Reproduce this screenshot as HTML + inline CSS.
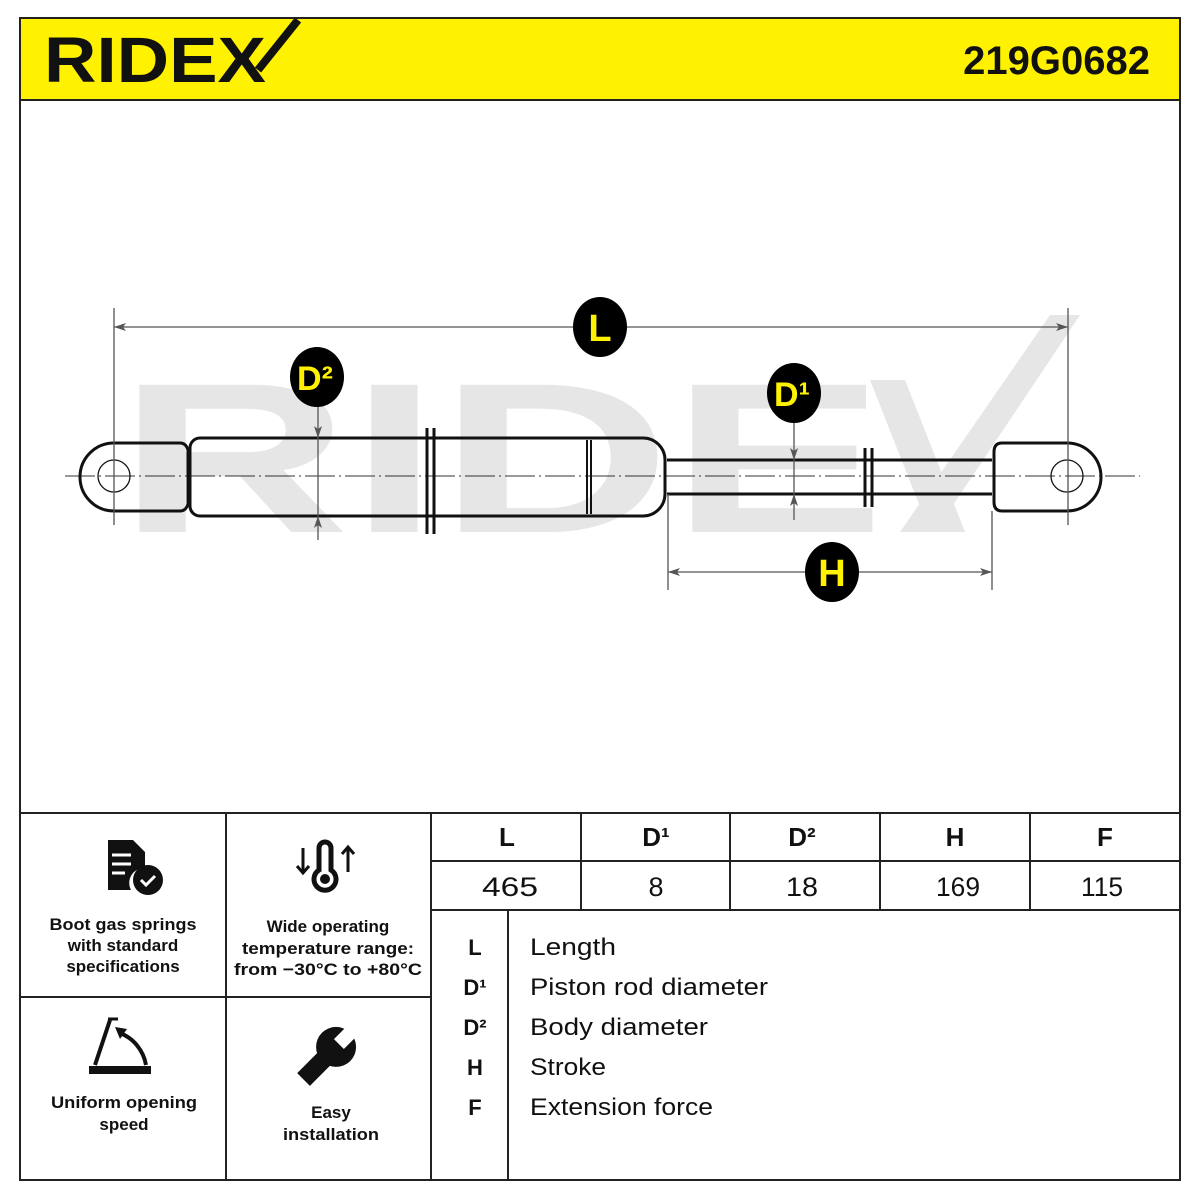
<!DOCTYPE html>
<html><head><meta charset="utf-8"><style>
html,body{margin:0;padding:0;background:#fff}
svg{display:block}
text{font-family:"Liberation Sans",sans-serif}
</style></head><body>
<svg width="1200" height="1200" viewBox="0 0 1200 1200" xmlns="http://www.w3.org/2000/svg">
<rect x="0" y="0" width="1200" height="1200" fill="#fff"/>
<!-- header -->
<rect x="20" y="18" width="1160" height="82" fill="#fff200"/>
<text x="44" y="82" font-size="64" font-weight="bold" fill="#111" textLength="222" lengthAdjust="spacingAndGlyphs">RIDEX</text>
<line x1="258" y1="70" x2="298" y2="20" stroke="#111" stroke-width="8"/>
<text x="1150" y="74" font-size="40" font-weight="bold" fill="#111" text-anchor="end">219G0682</text>
<!-- frame -->
<rect x="20" y="18" width="1160" height="1162" fill="none" stroke="#222" stroke-width="2"/>
<line x1="20" y1="100" x2="1180" y2="100" stroke="#222" stroke-width="2"/>
<!-- watermark -->
<g transform="translate(118,532) scale(1.5,1)">
<text x="0" y="0" font-size="214" font-weight="bold" fill="#e6e6e6">RIDE</text>
</g>
<path d="M900 532 L1050 315 L1080 315 L935 532 Z" fill="#e6e6e6"/>
<path d="M870 380 L905 380 L965 532 L930 532 Z" fill="#e6e6e6"/>
<!-- centerline -->
<line x1="65" y1="476" x2="1140" y2="476" stroke="#333" stroke-width="1" stroke-dasharray="30,4,2,4"/>
<!-- spring -->
<g fill="none" stroke="#111" stroke-width="3">
<path d="M114 443 L180 443 Q186 443 188 450 L188 504 Q186 511 180 511 L114 511 A34 34 0 0 1 114 443 Z"/>
<path d="M200 438 L643 438 A22 22 0 0 1 665 460 L665 494 A22 22 0 0 1 643 516 L200 516 A10 10 0 0 1 190 506 L190 448 A10 10 0 0 1 200 438 Z"/>
<line x1="427" y1="428" x2="427" y2="534"/><line x1="434" y1="428" x2="434" y2="534"/>
<line x1="587" y1="440" x2="587" y2="514" stroke-width="2"/><line x1="591" y1="440" x2="591" y2="514" stroke-width="2"/>
<line x1="667" y1="460" x2="992" y2="460"/><line x1="667" y1="494" x2="992" y2="494"/>
<line x1="865" y1="448" x2="865" y2="507"/><line x1="872" y1="448" x2="872" y2="507"/>
<path d="M1067 443 L1002 443 Q994 443 994 452 L994 502 Q994 511 1002 511 L1067 511 A34 34 0 0 0 1067 443 Z"/>
</g>
<circle cx="114" cy="476" r="16" fill="none" stroke="#111" stroke-width="1.3"/>
<circle cx="1067" cy="476" r="16" fill="none" stroke="#111" stroke-width="1.3"/>
<!-- dimension lines -->
<g stroke="#555" stroke-width="1.3" fill="none">
<line x1="114" y1="308" x2="114" y2="525"/><line x1="1068" y1="308" x2="1068" y2="525"/>
<line x1="114" y1="327" x2="1068" y2="327"/>
<line x1="318" y1="400" x2="318" y2="540"/>
<line x1="794" y1="415" x2="794" y2="520"/>
<line x1="668" y1="494" x2="668" y2="590"/><line x1="992" y1="511" x2="992" y2="590"/>
<line x1="668" y1="572" x2="992" y2="572"/>
</g>
<g fill="#555">
<path d="M114 327 l12 -4 l-3 4 l3 4 z"/><path d="M1068 327 l-12 -4 l3 4 l-3 4 z"/>
<path d="M318 438 l-4 -12 l4 3 l4 -3 z"/><path d="M318 516 l-4 12 l4 -3 l4 3 z"/>
<path d="M794 460 l-4 -12 l4 3 l4 -3 z"/><path d="M794 494 l-4 12 l4 -3 l4 3 z"/>
<path d="M668 572 l12 -4 l-3 4 l3 4 z"/><path d="M992 572 l-12 -4 l3 4 l-3 4 z"/>
</g>
<g font-weight="bold" fill="#fff200" text-anchor="middle">
<ellipse cx="600" cy="327" rx="27" ry="30" fill="#000"/><text x="600" y="341" font-size="38">L</text>
<ellipse cx="317" cy="377" rx="27" ry="30" fill="#000"/><text x="315" y="390" font-size="34">D²</text>
<ellipse cx="794" cy="393" rx="27" ry="30" fill="#000"/><text x="792" y="406" font-size="34">D¹</text>
<ellipse cx="832" cy="572" rx="27" ry="30" fill="#000"/><text x="832" y="586" font-size="38">H</text>
</g>
<!-- table lines -->
<g stroke="#222" stroke-width="2">
<line x1="20" y1="813" x2="1180" y2="813"/>
<line x1="226" y1="813" x2="226" y2="1180"/>
<line x1="431" y1="813" x2="431" y2="1180"/>
<line x1="20" y1="997" x2="431" y2="997"/>
<line x1="431" y1="861" x2="1180" y2="861"/>
<line x1="431" y1="910" x2="1180" y2="910"/>
<line x1="581" y1="813" x2="581" y2="910"/><line x1="730" y1="813" x2="730" y2="910"/>
<line x1="880" y1="813" x2="880" y2="910"/><line x1="1030" y1="813" x2="1030" y2="910"/>
<line x1="508" y1="910" x2="508" y2="1180"/>
</g>
<g font-size="26" font-weight="bold" fill="#111" text-anchor="middle">
<text x="507" y="846">L</text><text x="656" y="846">D¹</text><text x="802" y="846">D²</text><text x="955" y="846">H</text><text x="1105" y="846">F</text>
</g>
<g font-size="27" fill="#111" text-anchor="middle">
<text x="510" y="896" textLength="56" lengthAdjust="spacingAndGlyphs">465</text><text x="656" y="896">8</text><text x="802" y="896" textLength="32" lengthAdjust="spacingAndGlyphs">18</text><text x="958" y="896" textLength="44" lengthAdjust="spacingAndGlyphs">169</text><text x="1102" y="896" textLength="42" lengthAdjust="spacingAndGlyphs">115</text>
</g>
<g font-size="22" font-weight="bold" fill="#111" text-anchor="middle">
<text x="475" y="955">L</text><text x="475" y="995">D¹</text><text x="475" y="1035">D²</text><text x="475" y="1075">H</text><text x="475" y="1115">F</text>
</g>
<g font-size="24" fill="#111">
<text x="530" y="955" textLength="86" lengthAdjust="spacingAndGlyphs">Length</text>
<text x="530" y="995" textLength="238" lengthAdjust="spacingAndGlyphs">Piston rod diameter</text>
<text x="530" y="1035" textLength="178" lengthAdjust="spacingAndGlyphs">Body diameter</text>
<text x="530" y="1075" textLength="76" lengthAdjust="spacingAndGlyphs">Stroke</text>
<text x="530" y="1115" textLength="183" lengthAdjust="spacingAndGlyphs">Extension force</text>
</g>
<!-- feature texts -->
<g font-size="17" font-weight="bold" fill="#111" text-anchor="middle">
<text x="123" y="930" textLength="147" lengthAdjust="spacingAndGlyphs">Boot gas springs</text><text x="123" y="951">with standard</text><text x="123" y="972">specifications</text>
<text x="328" y="932">Wide operating</text><text x="328" y="954" textLength="172" lengthAdjust="spacingAndGlyphs">temperature range:</text><text x="328" y="975" textLength="188" lengthAdjust="spacingAndGlyphs">from −30°C to +80°C</text>
<text x="124" y="1108" textLength="146" lengthAdjust="spacingAndGlyphs">Uniform opening</text><text x="124" y="1130">speed</text>
<text x="331" y="1118">Easy</text><text x="331" y="1140" textLength="96" lengthAdjust="spacingAndGlyphs">installation</text>
</g>
<!-- icons -->
<path d="M108 840 L133 840 L145 852 L145 868 A15 15 0 0 0 131 890 L108 890 Z" fill="#111"/>
<g stroke="#fff" stroke-width="3"><line x1="112" y1="855" x2="131" y2="855"/><line x1="112" y1="864" x2="131" y2="864"/><line x1="112" y1="873" x2="125" y2="873"/></g>
<circle cx="148" cy="880" r="15" fill="#111"/>
<path d="M141 880 l5 5 l9 -9" stroke="#fff" stroke-width="3" fill="none"/>
<path d="M319 870 L319 848 A6 6 0 0 1 331 848 L331 870 A11 11 0 1 1 319 870 Z" fill="none" stroke="#111" stroke-width="5"/>
<circle cx="325" cy="879" r="5" fill="#111"/>
<g stroke="#111" stroke-width="3" fill="none"><line x1="303" y1="848" x2="303" y2="872"/><path d="M297 866 l6 7 l6 -7"/>
<line x1="348" y1="872" x2="348" y2="848"/><path d="M342 854 l6 -7 l6 7"/></g>
<path d="M110 1020 L95 1065" stroke="#111" stroke-width="4" fill="none"/>
<line x1="108" y1="1019" x2="118" y2="1019" stroke="#111" stroke-width="3"/>
<rect x="89" y="1066" width="62" height="8" fill="#111"/>
<path d="M146 1065 A42 42 0 0 0 120 1033" stroke="#111" stroke-width="4" fill="none"/>
<path d="M115 1027 l12 2 l-7 10 z" fill="#111"/>
<g transform="translate(329,1054) rotate(-45)">
<rect x="-36" y="-9" width="40" height="18" fill="#111"/>
<circle cx="10" cy="0" r="20" fill="#111"/>
<rect x="14" y="-7" width="20" height="14" fill="#fff"/>
</g>
</svg>
</body></html>
